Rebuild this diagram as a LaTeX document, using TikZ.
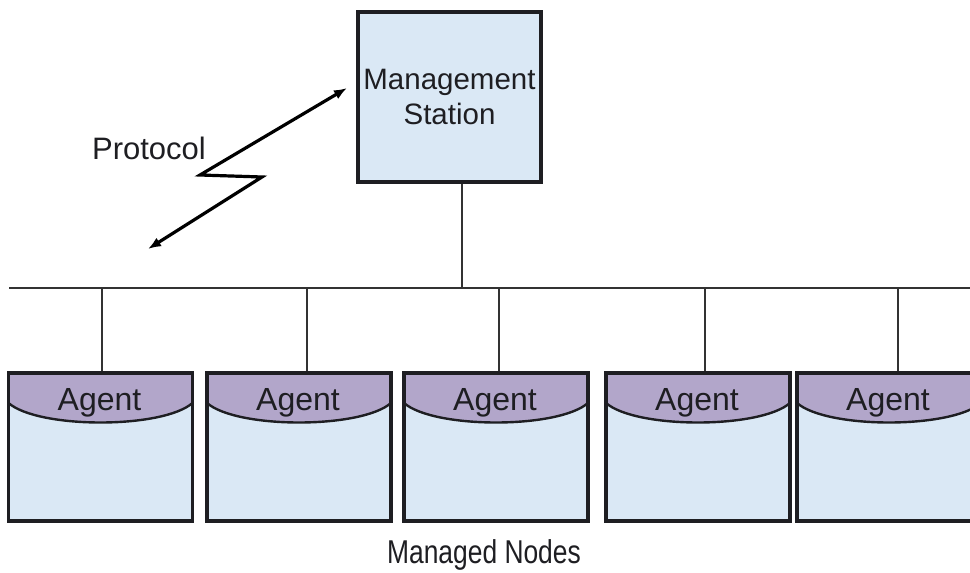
\documentclass[tikz,border=0pt]{standalone}
\usepackage{fontspec}
\setmainfont{Liberation Sans}
\usetikzlibrary{arrows.meta,calc}

\definecolor{boxblue}{RGB}{218,232,245}
\definecolor{hdrpurple}{RGB}{178,166,202}
\definecolor{ink}{RGB}{30,30,34}
\definecolor{wire}{RGB}{50,50,50}

\tikzset{
  stationbox/.style={draw=ink, line width=3.2pt, fill=boxblue, inner sep=0pt,
    minimum width=183pt, minimum height=170pt, align=center, text=ink,
    font=\fontsize{29.5}{35}\selectfont},
  agentbox/.style={draw=ink, line width=3.2pt, fill=boxblue, inner sep=0pt,
    minimum width=184pt, minimum height=148pt,
    path picture={
      \fill[hdrpurple] (path picture bounding box.north west)
        -- ($(path picture bounding box.north west)+(0,30)$)
        .. controls ($(path picture bounding box.north west)+(30,56)$)
        and ($(path picture bounding box.north east)+(-30,56)$)
        .. ($(path picture bounding box.north east)+(0,30)$)
        -- (path picture bounding box.north east) -- cycle;
      \draw[ink, line width=2.4pt]
        ($(path picture bounding box.north west)+(0,30)$)
        .. controls ($(path picture bounding box.north west)+(30,56)$)
        and ($(path picture bounding box.north east)+(-30,56)$)
        .. ($(path picture bounding box.north east)+(0,30)$);
      \node[text=ink, font=\fontsize{32}{36}\selectfont, inner sep=0pt]
        at ($(path picture bounding box.north)+(-1,30)$) {Agent};
    }},
  wireline/.style={draw=wire, line width=2.4pt},
  boltline/.style={draw=black, line width=3.2pt, line join=miter,
    {Latex[length=13pt,width=10pt]}-{Latex[length=13pt,width=10pt]}},
  caption/.style={text=ink, inner sep=0pt, font=\fontsize{31}{35}\selectfont}
}

\begin{document}
\begin{tikzpicture}[x=1pt, y=-1pt]
  \useasboundingbox (0,0) rectangle (970,573);
  \begin{scope}
    \clip (0,0) rectangle (970,573);

    % management station
    \node[stationbox] (ms) at (449.5,97) {Management\\Station};

    % bus
    \coordinate (busL) at (9,288);
    \coordinate (busR) at (972,288);
    \coordinate (busMS) at (462,288);
    \draw[wireline] (busL) -- (busR);
    \draw[wireline] (busMS |- ms.south) -- (busMS);

    % managed nodes with their agents
    \foreach \i/\cx/\dx in {1/100.5/102, 2/299/307, 3/496/499, 4/698/705, 5/889/898} {
      \node[agentbox] (a\i) at (\cx,447) {};
      \coordinate (d\i) at (\dx,288);
      \draw[wireline] (d\i) -- (d\i |- a\i.north);
    }

    % protocol bolt
    \coordinate (p1) at (148,249);
    \coordinate (z1) at (262,177);
    \coordinate (z2) at (200,175);
    \coordinate (p2) at (347,88);
    \draw[boltline] (p1) -- (z1) -- (z2) -- (p2);

    \node[caption] (proto) at (149,148) {Protocol};
    \node[caption, font=\fontsize{33}{36}\selectfont, xscale=0.8] (mn) at (484,555) {Managed Nodes};
  \end{scope}
\end{tikzpicture}
\end{document}
